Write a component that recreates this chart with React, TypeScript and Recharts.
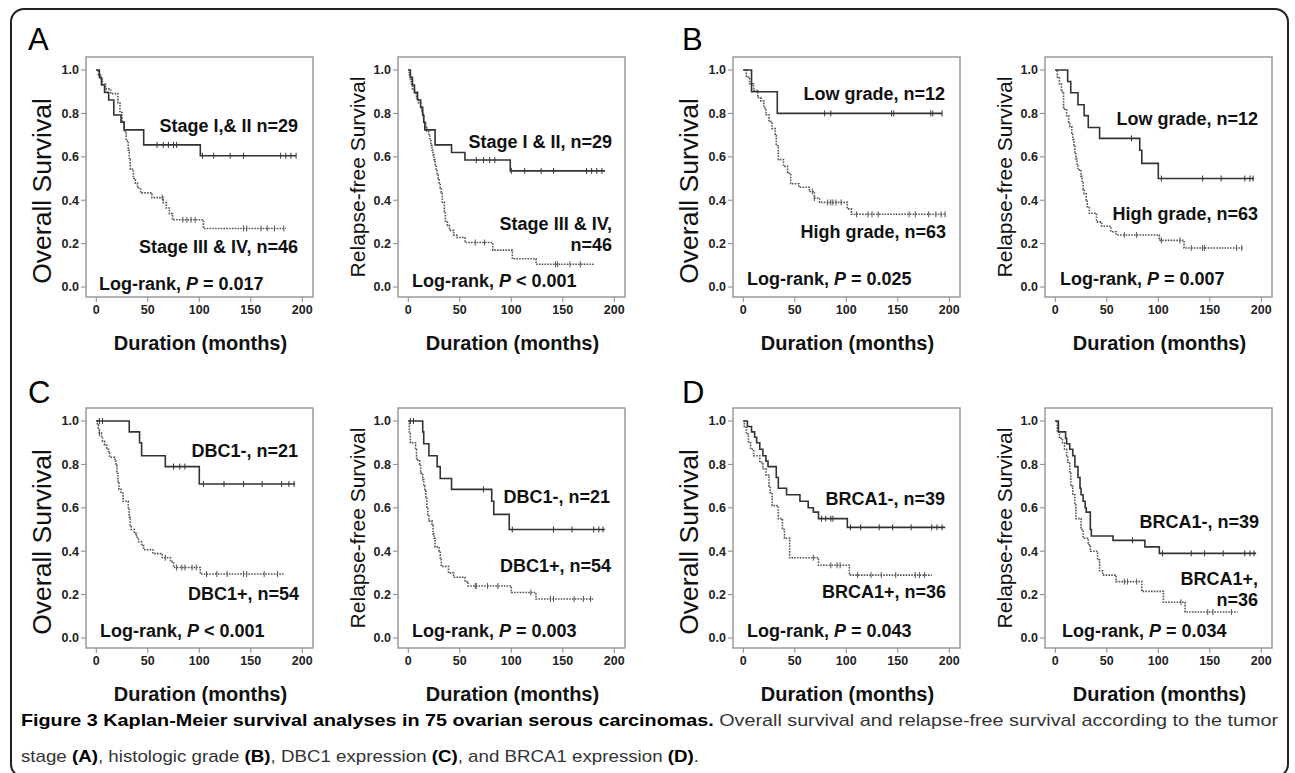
import { ComposedChart, Line, Scatter, XAxis, YAxis, ReferenceArea } from 'recharts'

const timeTicks = [0, 50, 100, 150, 200]
const survTicks = [0, 0.2, 0.4, 0.6, 0.8, 1.0]

// (A) tumor stage — overall survival
const stageLowOs: [number, number][] = [[0, 1], [3, 0.966], [5, 0.931], [8, 0.897], [12, 0.862], [17, 0.793], [24, 0.759], [27, 0.724], [46, 0.655], [101, 0.605], [194, 0.605]]
const stageLowOsCens = [59, 65, 70, 75, 78, 103, 114, 130, 143, 179, 184, 189, 194]
const stageHighOs: [number, number][] = [[0, 1], [2, 0.978], [4, 0.957], [6, 0.935], [9, 0.913], [14, 0.891], [21, 0.848], [23, 0.804], [25, 0.76], [27, 0.717], [29, 0.674], [31, 0.63], [32, 0.587], [33, 0.543], [36, 0.5], [38, 0.478], [40, 0.456], [43, 0.434], [54, 0.412], [65, 0.389], [68, 0.364], [71, 0.338], [74, 0.31], [104, 0.27], [184, 0.27]]
const stageHighOsCens = [64, 84, 88, 92, 96, 143, 146, 160, 166, 173, 182]

// (A) tumor stage — relapse-free survival
const stageLowRfs: [number, number][] = [[0, 1], [2, 0.966], [4, 0.931], [6, 0.897], [9, 0.862], [12, 0.828], [14, 0.793], [15, 0.759], [16, 0.724], [26, 0.655], [42, 0.62], [55, 0.585], [99, 0.535], [191, 0.535]]
const stageLowRfsCens = [66, 73, 79, 84, 100, 113, 129, 141, 173, 178, 183, 188]
const stageHighRfs: [number, number][] = [[0, 1], [1, 0.978], [2, 0.957], [3, 0.935], [4, 0.913], [6, 0.891], [8, 0.87], [10, 0.848], [12, 0.826], [13, 0.804], [14, 0.783], [15, 0.761], [17, 0.739], [18, 0.717], [20, 0.696], [21, 0.674], [22, 0.652], [23, 0.63], [24, 0.609], [25, 0.587], [26, 0.565], [27, 0.543], [28, 0.522], [29, 0.5], [30, 0.478], [31, 0.457], [32, 0.435], [33, 0.391], [35, 0.348], [36, 0.304], [38, 0.283], [40, 0.261], [44, 0.239], [47, 0.228], [55, 0.205], [82, 0.17], [101, 0.13], [124, 0.105], [180, 0.105]]
const stageHighRfsCens = [65, 74, 143, 145, 157, 167]

// (B) histologic grade — overall survival
const gradeLowOs: [number, number][] = [[0, 1], [8, 0.9], [33, 0.8], [193, 0.8]]
const gradeLowOsCens = [79, 85, 144, 146, 182, 184, 193]
const gradeHighOs: [number, number][] = [[0, 1], [3, 0.968], [6, 0.937], [10, 0.905], [14, 0.873], [17, 0.857], [20, 0.825], [22, 0.794], [25, 0.762], [28, 0.73], [31, 0.698], [32, 0.651], [34, 0.587], [39, 0.556], [43, 0.524], [46, 0.476], [54, 0.46], [64, 0.44], [69, 0.41], [74, 0.39], [101, 0.36], [105, 0.335], [196, 0.335]]
const gradeHighOsCens = [67, 69, 82, 85, 87, 90, 95, 110, 121, 125, 131, 161, 167, 180, 187, 192, 196]

// (B) histologic grade — relapse-free survival
const gradeLowRfs: [number, number][] = [[0, 1], [12, 0.947], [15, 0.895], [22, 0.84], [28, 0.79], [32, 0.735], [43, 0.685], [82, 0.63], [84, 0.57], [100, 0.5], [193, 0.5]]
const gradeLowRfsCens = [74, 103, 143, 161, 184, 189, 192]
const gradeHighRfs: [number, number][] = [[0, 1], [2, 0.968], [4, 0.937], [6, 0.9], [8, 0.82], [11, 0.79], [13, 0.76], [14, 0.74], [16, 0.71], [17, 0.68], [18, 0.65], [19, 0.62], [20, 0.59], [21, 0.56], [22, 0.54], [25, 0.51], [26, 0.48], [27, 0.45], [28, 0.43], [30, 0.4], [31, 0.37], [33, 0.34], [40, 0.3], [45, 0.28], [54, 0.255], [59, 0.24], [101, 0.215], [125, 0.18], [182, 0.18]]
const gradeHighRfsCens = [67, 79, 103, 121, 132, 143, 145, 176, 181]

// (C) DBC1 expression — overall survival
const dbcNegOs: [number, number][] = [[0, 1], [32, 0.95], [42, 0.9], [44, 0.84], [67, 0.79], [100, 0.71], [193, 0.71]]
const dbcNegOsCens = [3, 6, 75, 81, 86, 104, 124, 143, 161, 180, 187, 192]
const dbcPosOs: [number, number][] = [[0, 1], [1, 0.981], [2, 0.963], [3, 0.944], [5, 0.926], [6, 0.907], [8, 0.889], [10, 0.87], [12, 0.852], [13, 0.833], [18, 0.815], [19, 0.796], [20, 0.759], [21, 0.722], [22, 0.685], [24, 0.667], [26, 0.63], [31, 0.593], [32, 0.556], [33, 0.519], [34, 0.5], [37, 0.481], [39, 0.463], [41, 0.444], [44, 0.426], [46, 0.407], [55, 0.389], [64, 0.37], [72, 0.352], [75, 0.325], [101, 0.295], [182, 0.295]]
const dbcPosOsCens = [3, 67, 78, 83, 86, 93, 97, 107, 117, 127, 143, 146, 163, 176]

// (C) DBC1 expression — relapse-free survival
const dbcNegRfs: [number, number][] = [[0, 1], [14, 0.95], [15, 0.895], [20, 0.84], [28, 0.79], [31, 0.735], [42, 0.685], [81, 0.63], [83, 0.57], [98, 0.5], [191, 0.5]]
const dbcNegRfsCens = [2, 5, 73, 101, 141, 159, 180, 185, 189]
const dbcPosRfs: [number, number][] = [[0, 1], [1, 0.95], [2, 0.9], [7, 0.87], [8, 0.82], [11, 0.8], [12, 0.76], [14, 0.73], [15, 0.7], [16, 0.68], [17, 0.65], [18, 0.6], [19, 0.57], [20, 0.54], [23, 0.52], [24, 0.48], [25, 0.46], [26, 0.42], [30, 0.4], [31, 0.37], [32, 0.33], [39, 0.3], [44, 0.28], [55, 0.26], [58, 0.24], [100, 0.21], [124, 0.18], [180, 0.18]]
const dbcPosRfsCens = [65, 66, 77, 87, 119, 138, 141, 161, 170, 177]

// (D) BRCA1 expression — overall survival
const brcaNegOs: [number, number][] = [[0, 1], [4, 0.975], [8, 0.95], [11, 0.925], [13, 0.9], [16, 0.87], [19, 0.84], [22, 0.815], [24, 0.79], [32, 0.74], [34, 0.69], [42, 0.66], [55, 0.63], [63, 0.6], [68, 0.58], [73, 0.55], [101, 0.51], [196, 0.51]]
const brcaNegOsCens = [76, 80, 85, 87, 104, 114, 132, 145, 163, 183, 188, 193]
const brcaPosOs: [number, number][] = [[0, 1], [1, 0.97], [3, 0.94], [5, 0.9], [7, 0.87], [10, 0.84], [16, 0.81], [19, 0.78], [22, 0.75], [25, 0.7], [26, 0.67], [28, 0.61], [34, 0.55], [38, 0.5], [40, 0.46], [45, 0.37], [73, 0.335], [103, 0.29], [183, 0.29]]
const brcaPosOsCens = [68, 85, 91, 94, 111, 124, 134, 148, 167, 171, 176]

// (D) BRCA1 expression — relapse-free survival
const brcaNegRfs: [number, number][] = [[0, 1], [3, 0.95], [10, 0.92], [11, 0.895], [14, 0.87], [17, 0.84], [19, 0.79], [22, 0.74], [24, 0.69], [25, 0.66], [27, 0.63], [29, 0.6], [30, 0.58], [34, 0.5], [35, 0.47], [56, 0.45], [87, 0.42], [101, 0.39], [195, 0.39]]
const brcaNegRfsCens = [75, 104, 132, 145, 163, 184, 189, 193]
const brcaPosRfs: [number, number][] = [[0, 1], [2, 0.95], [4, 0.92], [7, 0.9], [9, 0.87], [11, 0.84], [12, 0.81], [14, 0.76], [15, 0.7], [17, 0.66], [19, 0.62], [20, 0.55], [25, 0.5], [27, 0.46], [32, 0.43], [34, 0.4], [41, 0.36], [43, 0.31], [46, 0.29], [59, 0.26], [84, 0.215], [105, 0.165], [126, 0.12], [177, 0.12]]
const brcaPosRfsCens = [67, 70, 79, 122, 148, 153, 171]

const FONT = "'Liberation Sans', Arial, Helvetica, sans-serif"
const X_DOMAIN: [number, number] = [-10, 210.4]
const Y_DOMAIN: [number, number] = [-0.046, 1.06]
const Y_AXIS_W = 60
const PLOT_W = 227
const PLOT_H = 240

const toRows = (pts: [number, number][]) => pts.map(([t, s]) => ({ t, s }))

// place censor marks on the step curve
const censRows = (pts: [number, number][], times: number[]) =>
  times.map((t) => {
    let s = pts[0][1]
    for (const [pt, ps] of pts) if (pt <= t) s = ps
    return { t, s }
  })

const censorShape = (color: string) => (props: any) => (
  <line x1={props.cx} x2={props.cx} y1={props.cy - 3} y2={props.cy + 3} stroke={color} strokeWidth={1} />
)

interface KmProps {
  left: number
  top: number
  solid: [number, number][]
  solidCens: number[]
  dotted: [number, number][]
  dottedCens: number[]
}

function KmChart({ left, top, solid, solidCens, dotted, dottedCens }: KmProps) {
  const tickStyle = { fill: '#222', fontSize: 12.5, fontWeight: 700, fontFamily: FONT }
  return (
    <div style={{ position: 'absolute', left: left - Y_AXIS_W, top: top - 5 }}>
      <ComposedChart width={Y_AXIS_W + PLOT_W + 5} height={PLOT_H + 35} margin={{ top: 5, right: 5, bottom: 0, left: 0 }}>
        <XAxis dataKey="t" type="number" domain={X_DOMAIN} ticks={timeTicks} allowDataOverflow
          axisLine={false} tickLine={{ stroke: '#888' }} tickSize={5} tickMargin={3} height={30} tick={tickStyle} />
        <YAxis type="number" domain={Y_DOMAIN} ticks={survTicks} allowDataOverflow width={Y_AXIS_W}
          axisLine={false} tickLine={{ stroke: '#888' }} tickSize={5} tickMargin={2} tick={tickStyle}
          tickFormatter={(v: number) => v.toFixed(1)} />
        <ReferenceArea x1={X_DOMAIN[0]} x2={X_DOMAIN[1]} y1={Y_DOMAIN[0]} y2={Y_DOMAIN[1]}
          fill="none" stroke="#9a9a9a" strokeWidth={1.5} />
        <Line data={toRows(dotted)} dataKey="s" type="stepAfter" stroke="#555" strokeWidth={1.6}
          strokeDasharray="1.6 1.2" dot={false} activeDot={false} isAnimationActive={false} />
        <Line data={toRows(solid)} dataKey="s" type="stepAfter" stroke="#333" strokeWidth={1.6}
          dot={false} activeDot={false} isAnimationActive={false} />
        <Scatter data={censRows(dotted, dottedCens)} dataKey="s" shape={censorShape('#555')} isAnimationActive={false} />
        <Scatter data={censRows(solid, solidCens)} dataKey="s" shape={censorShape('#333')} isAnimationActive={false} />
      </ComposedChart>
    </div>
  )
}

const noteStyle = (right: number, y: number): React.CSSProperties => ({
  position: 'absolute', right: 1295 - right, top: y - 11, lineHeight: '21px', fontSize: 18,
  fontWeight: 700, fontFamily: FONT, color: '#111', textAlign: 'right', whiteSpace: 'pre',
})

const colLeft = [86, 398, 733, 1045]
const rowTop = [57, 408]

export default function App() {
  const panels = [
    { c: 0, r: 0, yl: 'Overall Survival', solid: stageLowOs, sc: stageLowOsCens, dotted: stageHighOs, dc: stageHighOsCens,
      notes: [['Stage I,& II n=29', 298, 127], ['Stage III & IV, n=46', 298, 248]], lr: [99, 285, '=', '0.017'] },
    { c: 1, r: 0, yl: 'Relapse-free Survival', solid: stageLowRfs, sc: stageLowRfsCens, dotted: stageHighRfs, dc: stageHighRfsCens,
      notes: [['Stage I & II, n=29', 612, 143], ['Stage III & IV,\nn=46', 612, 225]], lr: [412, 282, '<', '0.001'] },
    { c: 2, r: 0, yl: 'Overall Survival', solid: gradeLowOs, sc: gradeLowOsCens, dotted: gradeHighOs, dc: gradeHighOsCens,
      notes: [['Low grade, n=12', 945, 95], ['High grade, n=63', 946, 233]], lr: [747, 280, '=', '0.025'] },
    { c: 3, r: 0, yl: 'Relapse-free Survival', solid: gradeLowRfs, sc: gradeLowRfsCens, dotted: gradeHighRfs, dc: gradeHighRfsCens,
      notes: [['Low grade, n=12', 1258, 120], ['High grade, n=63', 1258, 215]], lr: [1060, 280, '=', '0.007'] },
    { c: 0, r: 1, yl: 'Overall Survival', solid: dbcNegOs, sc: dbcNegOsCens, dotted: dbcPosOs, dc: dbcPosOsCens,
      notes: [['DBC1-, n=21', 298, 452], ['DBC1+, n=54', 299, 595]], lr: [100, 632, '<', '0.001'] },
    { c: 1, r: 1, yl: 'Relapse-free Survival', solid: dbcNegRfs, sc: dbcNegRfsCens, dotted: dbcPosRfs, dc: dbcPosRfsCens,
      notes: [['DBC1-, n=21', 610, 498], ['DBC1+, n=54', 611, 567]], lr: [412, 632, '=', '0.003'] },
    { c: 2, r: 1, yl: 'Overall Survival', solid: brcaNegOs, sc: brcaNegOsCens, dotted: brcaPosOs, dc: brcaPosOsCens,
      notes: [['BRCA1-, n=39', 945, 500], ['BRCA1+, n=36', 946, 593]], lr: [747, 632, '=', '0.043'] },
    { c: 3, r: 1, yl: 'Relapse-free Survival', solid: brcaNegRfs, sc: brcaNegRfsCens, dotted: brcaPosRfs, dc: brcaPosRfsCens,
      notes: [['BRCA1-, n=39', 1259, 523], ['BRCA1+,\nn=36', 1258, 580]], lr: [1062, 632, '=', '0.034'] },
  ]
  const letters = [['A', 28, 24], ['B', 682, 24], ['C', 28, 377], ['D', 682, 377]] as const

  return (
    <div style={{ position: 'absolute', left: 0, top: 0, width: 1295, height: 773, background: '#fff', overflow: 'hidden', fontFamily: FONT }}>
      <div style={{ position: 'absolute', left: 10, top: 8, width: 1279, height: 770, border: '2px solid #222', borderRadius: 14, boxSizing: 'border-box' }} />
      {letters.map(([l, x, y]) => (
        <div key={l} style={{ position: 'absolute', left: x, top: y, fontSize: 31, lineHeight: '31px', color: '#000' }}>{l}</div>
      ))}
      {panels.map((p, i) => {
        const left = colLeft[p.c]
        const top = rowTop[p.r]
        const isOs = p.yl === 'Overall Survival'
        const ylx = left - (isOs ? 44 : 40)
        const yly = top + PLOT_H / 2 + (isOs ? 14 : 0)
        return (
          <div key={i}>
            <KmChart left={left} top={top} solid={p.solid} solidCens={p.sc} dotted={p.dotted} dottedCens={p.dc} />
            <div style={{ position: 'absolute', left: ylx, top: yly, transform: 'translate(-50%, -50%) rotate(-90deg)',
              whiteSpace: 'nowrap', fontSize: isOs ? 26.5 : 21, color: '#111' }}>{p.yl}</div>
            <div style={{ position: 'absolute', left: left + PLOT_W / 2 + 1, top: top + 286, transform: 'translate(-50%, -50%)',
              whiteSpace: 'nowrap', fontSize: 20, fontWeight: 700, color: '#111' }}>Duration (months)</div>
            {p.notes.map(([t, r, y], j) => (
              <div key={j} style={noteStyle(r as number, y as number)}>{t}</div>
            ))}
            <div style={{ position: 'absolute', left: p.lr[0] as number, top: (p.lr[1] as number) - 11, lineHeight: '21px',
              fontSize: 18, fontWeight: 700, color: '#111', whiteSpace: 'pre' }}>
              {'Log-rank, '}<i>P</i>{` ${p.lr[2]} ${p.lr[3]}`}
            </div>
          </div>
        )
      })}
      <svg width={1295} height={773} style={{ position: 'absolute', left: 0, top: 0 }}>
        <text x={21} y={726} fontSize={17} fontFamily={FONT} textLength={1257} lengthAdjust="spacingAndGlyphs">
          <tspan fontWeight={700} fill="#000">Figure 3 Kaplan-Meier survival analyses in 75 ovarian serous carcinomas.</tspan>
          <tspan fill="#333"> Overall survival and relapse-free survival according to the tumor</tspan>
        </text>
        <text x={21} y={762} fontSize={17} fontFamily={FONT} fill="#333" textLength={678} lengthAdjust="spacingAndGlyphs">
          {'stage '}<tspan fontWeight={700} fill="#000">(A)</tspan>{', histologic grade '}
          <tspan fontWeight={700} fill="#000">(B)</tspan>{', DBC1 expression '}
          <tspan fontWeight={700} fill="#000">(C)</tspan>{', and BRCA1 expression '}
          <tspan fontWeight={700} fill="#000">(D)</tspan>{'.'}
        </text>
      </svg>
    </div>
  )
}
